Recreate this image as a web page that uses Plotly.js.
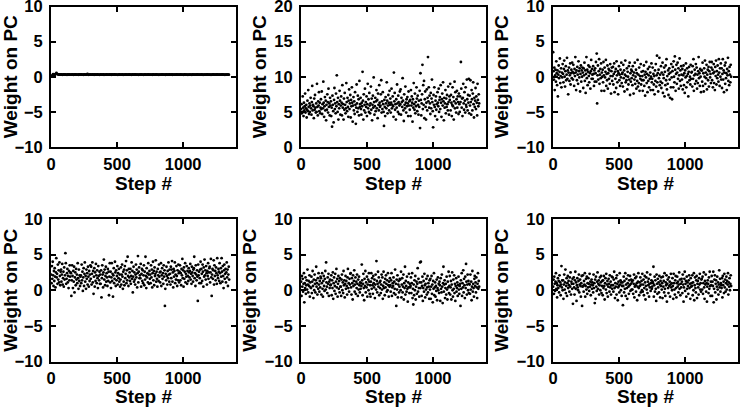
<!DOCTYPE html>
<html>
<head>
<meta charset="utf-8">
<script src="https://cdn.plot.ly/plotly-3.0.1.min.js"></script>
<style>html,body{margin:0;padding:0;background:#fff;}#chart{width:740px;height:407px;}</style>
</head>
<body>
<div id="chart"></div>
<script>
// Sampled steps: panel 1 every 5th step, other panels every 3rd step (first step # = 1)
const stepFirst = 1;
const stepEveryPc1 = 5;
const stepEvery = 3;

const xTickVals = [0, 500, 1000];
const xTickText = ['0', '500', '1000'];
const yTicksA = [-10, -5, 0, 5, 10];
const yTicksB = [0, 5, 10, 15, 20];
const xTitle = 'Step #';
const yTitle = 'Weight on PC';

const pc1 = [
0.02,0.12,0.22,0.38,0.30,0.34,0.28,0.42,0.55,0.40,0.34,0.31,0.33,0.29,0.32,
0.30,0.33,0.28,0.31,0.32,0.29,0.34,0.30,0.31,0.28,0.33,0.30,0.32,0.29,0.31,
0.31,0.29,0.33,0.30,0.28,0.32,0.30,0.34,0.29,0.31,0.30,0.27,0.33,0.30,0.32,
0.29,0.32,0.30,0.31,0.28,0.33,0.31,0.29,0.30,0.32,0.40,0.30,0.28,0.31,0.33,
0.30,0.31,0.29,0.32,0.30,0.28,0.33,0.31,0.30,0.29,0.32,0.30,0.31,0.28,0.30,
0.32,0.29,0.31,0.30,0.33,0.28,0.30,0.31,0.29,0.32,0.30,0.31,0.29,0.30,0.32,
0.30,0.28,0.32,0.31,0.29,0.30,0.33,0.30,0.29,0.31,0.30,0.28,0.31,0.32,0.30,
0.29,0.31,0.30,0.32,0.28,0.31,0.30,0.29,0.33,0.30,0.31,0.29,0.30,0.32,0.29,
0.31,0.30,0.28,0.32,0.30,0.29,0.31,0.33,0.30,0.29,0.31,0.30,0.28,0.31,0.30,
0.30,0.32,0.29,0.31,0.30,0.28,0.30,0.32,0.29,0.31,0.30,0.29,0.32,0.30,0.31,
0.29,0.30,0.31,0.28,0.32,0.30,0.31,0.29,0.30,0.33,0.29,0.31,0.30,0.28,0.31,
0.30,0.31,0.29,0.32,0.30,0.29,0.31,0.30,0.28,0.32,0.30,0.29,0.31,0.30,0.32,
0.31,0.29,0.30,0.32,0.28,0.31,0.30,0.29,0.31,0.30,0.33,0.29,0.30,0.31,0.29,
0.30,0.32,0.29,0.30,0.31,0.28,0.30,0.32,0.30,0.29,0.31,0.30,0.28,0.31,0.30,
0.29,0.31,0.30,0.28,0.32,0.30,0.31,0.29,0.30,0.31,0.29,0.32,0.30,0.29,0.31,
0.30,0.29,0.31,0.32,0.30,0.28,0.31,0.30,0.29,0.31,0.30,0.32,0.29,0.30,0.31,
0.31,0.30,0.28,0.31,0.30,0.32,0.29,0.30,0.31,0.29,0.30,0.32,0.30,0.29,0.31,
0.30,0.31,0.29,0.30,0.32,0.29,0.31,0.30,0.28,0.31,0.30,0.29,0.31,0.30,0.30
];

const pc2 = [
5.4,6.1,4.8,5.0,7.2,5.6,4.4,6.3,5.2,5.8,7.6,4.9,5.5,6.0,4.2,5.3,6.6,5.1,8.1,5.7,4.7,6.2,5.0,5.9,7.0,
5.5,4.6,6.4,8.7,5.2,6.0,5.8,4.1,6.9,5.3,7.4,5.6,4.9,6.2,5.0,9.0,5.7,4.5,6.5,5.9,7.8,5.1,6.3,4.8,5.6,
6.8,5.4,7.9,4.7,6.1,5.5,9.3,6.3,4.3,5.8,7.1,5.2,6.6,3.8,6.0,5.3,7.5,6.4,4.9,8.3,5.7,6.2,4.5,7.0,5.9,
6.5,4.4,5.6,2.9,7.3,6.0,5.1,3.5,6.7,8.4,5.4,6.2,4.8,7.6,5.8,10.2,6.4,5.0,7.0,3.9,6.1,5.5,8.0,6.6,4.6,
5.9,7.2,6.3,4.5,8.8,5.6,6.1,3.9,6.9,5.3,7.7,6.0,4.8,5.5,9.1,6.4,5.1,7.0,5.7,4.3,6.6,8.2,5.4,6.2,7.4,
4.2,6.7,5.8,8.5,6.3,3.6,5.9,7.1,5.2,6.5,4.7,7.8,6.0,3.3,5.6,8.9,6.2,5.0,7.3,5.5,6.8,4.5,9.4,5.7,6.1,
7.0,5.4,4.6,6.3,5.8,10.7,6.6,3.9,7.5,5.2,6.0,8.3,4.9,6.4,5.7,7.2,4.4,6.1,9.0,5.5,6.8,5.0,7.7,5.9,4.8,
6.2,8.6,5.3,6.9,3.8,6.0,7.3,5.6,9.9,6.4,4.6,5.8,7.0,5.1,6.5,8.1,5.5,6.7,4.1,7.6,6.0,5.2,8.8,6.3,5.7,
5.9,7.5,9.5,4.9,6.5,5.4,7.8,6.1,5.0,3.0,6.7,5.7,4.4,7.1,6.2,5.5,9.2,6.6,4.8,5.9,7.4,6.3,5.2,8.0,6.0,
6.9,4.9,6.3,8.3,5.5,6.0,7.2,5.8,4.3,10.6,6.5,7.7,5.3,6.1,3.9,6.8,5.6,8.9,6.2,5.0,7.3,6.4,4.7,5.9,7.9,
6.1,8.2,4.6,7.0,6.4,5.7,9.8,6.6,5.2,3.7,7.5,6.0,5.5,8.6,6.3,4.9,6.8,5.8,7.1,6.2,4.4,7.9,5.9,6.5,5.3,
6.7,4.4,8.1,5.9,7.2,6.3,3.6,6.8,5.6,9.1,6.1,5.3,7.6,4.8,6.4,5.8,8.5,6.9,5.1,7.3,6.0,4.6,6.6,5.7,8.0,
2.7,10.5,6.7,4.5,6.2,7.5,11.7,5.4,8.8,6.0,9.4,4.1,6.8,7.9,5.7,3.9,6.3,8.2,5.2,7.0,12.8,6.5,8.5,5.6,7.3,
6.2,4.7,7.7,5.5,6.9,9.6,6.4,5.1,2.8,7.4,6.0,8.5,5.7,4.4,6.6,7.2,5.3,6.1,3.9,7.8,6.3,5.8,8.3,5.0,6.7,
7.1,5.4,8.8,6.3,4.3,6.8,7.6,5.9,9.2,6.5,3.8,7.0,5.6,6.2,8.1,4.8,6.9,5.7,7.4,6.1,5.2,8.6,6.4,4.6,7.2,
6.7,9.0,5.2,7.4,6.3,4.4,6.0,8.5,5.8,7.1,3.9,6.5,9.3,5.5,7.8,6.2,4.9,6.8,8.0,5.6,7.2,6.4,4.7,7.6,6.1,
5.0,7.2,6.4,12.1,8.3,5.6,6.9,4.4,7.0,9.0,6.2,5.3,7.8,6.6,4.9,8.5,6.0,5.7,9.6,6.8,5.2,7.4,6.3,9.7,4.8,
7.3,5.9,9.5,6.4,4.6,8.1,6.8,5.2,7.6,9.2,6.1,4.2,7.0,5.7,6.6,8.4,5.4,7.2,6.3,4.5,9.0,6.7,5.8,7.5,6.2
];

const pc3 = [
3.5,0.8,-0.4,1.3,-1.9,0.2,1.0,-0.7,2.2,0.5,-1.2,0.9,-2.8,0.3,1.6,-0.2,0.7,2.6,-0.9,0.1,1.2,-1.5,0.6,-0.1,1.8,
0.4,-0.8,1.1,2.3,0.0,-1.4,0.8,1.5,-0.5,0.3,2.7,-0.3,0.9,-2.5,0.6,1.3,-0.6,0.2,1.9,-1.1,0.5,1.0,-0.2,2.0,0.7,
-0.4,1.7,0.5,-1.3,1.1,0.1,2.8,0.6,-1.9,0.9,-0.5,1.4,0.3,-1.0,2.2,0.8,-0.1,1.2,-2.1,0.4,1.6,-0.7,0.9,0.0,1.3,
0.6,-1.6,1.2,0.2,2.0,-0.6,0.9,-2.3,0.4,2.8,-0.2,1.0,-1.2,0.7,1.6,0.1,-0.8,1.4,0.5,-1.7,0.8,2.4,-0.3,1.1,0.3,
-0.3,1.5,0.4,-1.3,0.9,-0.7,1.2,0.5,2.1,-0.7,3.3,-3.8,0.2,1.6,-0.4,0.8,2.5,-1.0,0.3,1.1,-0.2,1.9,-2.0,0.6,0.0,
1.0,-0.8,2.1,0.2,-2.0,1.3,-0.1,0.7,2.4,-1.3,0.4,-0.5,1.6,-1.7,0.5,1.1,-0.3,0.9,-1.0,1.8,0.1,-2.4,0.8,1.3,-0.6,
0.1,1.4,-1.1,0.4,1.9,-2.2,0.7,-0.3,1.1,-1.6,2.2,0.2,-0.8,0.8,-2.5,0.5,1.5,-0.5,0.3,-1.3,1.0,-0.1,2.0,-0.9,0.4,
0.6,-1.4,1.7,-0.2,0.9,-2.1,0.3,2.3,-0.8,0.1,-0.5,1.2,-1.8,0.7,0.0,-1.1,1.5,-0.4,2.0,-2.6,0.5,-0.7,1.0,-0.2,0.8,
-1.2,1.5,0.2,-2.4,0.6,-0.4,2.0,-1.0,0.0,1.0,-1.7,0.5,-0.6,2.4,-1.4,0.3,-0.9,1.3,-2.0,0.1,-0.3,1.8,-1.1,0.7,-0.5,
0.1,-2.0,0.8,-0.5,1.6,-1.3,0.3,-2.7,0.7,-0.1,2.1,-0.9,0.4,-2.2,1.1,-0.6,0.2,-1.5,1.4,-0.3,0.6,-1.9,0.0,1.9,-0.8,
-0.3,1.3,-1.9,0.4,-1.1,0.1,-2.5,0.9,-0.6,1.8,-1.4,0.2,3.0,-0.8,0.5,-2.1,1.0,-0.2,2.7,-1.2,0.3,-0.7,1.5,-1.6,0.6,
-0.9,2.0,-2.3,0.3,-0.2,1.3,-2.8,0.7,-1.2,1.6,-0.5,2.5,-1.8,0.1,-1.0,0.9,-2.6,0.4,1.2,-0.4,-3.0,0.6,-1.5,1.8,-0.1,
-3.2,0.8,1.4,-1.5,2.2,0.0,-0.8,2.9,1.0,-2.0,0.4,1.7,-1.0,0.6,2.0,-0.3,1.2,-1.7,0.2,2.6,-0.6,0.9,-1.3,1.5,0.3,
-0.4,1.1,-1.8,0.2,1.6,-1.2,0.5,-2.3,0.9,-0.1,1.9,-1.5,0.1,1.2,-0.8,0.4,-2.8,0.7,1.4,-0.5,0.0,-1.1,1.7,-0.3,0.6,
0.7,-1.4,1.5,-0.3,2.5,-2.0,0.2,1.0,-1.0,0.4,1.8,-0.6,1.3,-1.7,0.3,-0.9,0.8,2.8,-0.2,0.5,-1.3,1.1,0.0,-2.2,0.9,
0.9,-0.7,2.0,-1.3,0.5,-2.1,1.2,0.0,2.3,-1.0,0.6,-0.2,1.7,-1.8,0.3,1.0,-0.5,1.4,-1.4,0.8,2.1,-0.1,0.4,-0.9,1.3,
2.1,-0.5,1.0,-1.5,0.5,1.8,-0.9,0.7,-1.9,1.4,0.1,2.3,-1.1,0.8,-0.2,1.6,0.3,-0.7,2.5,0.6,-1.3,1.2,0.0,1.9,-0.4,
1.2,-1.6,0.4,2.5,-0.4,0.9,-2.2,0.6,1.6,-1.0,2.0,-0.2,0.5,-1.9,1.1,0.2,2.7,-0.6,0.8,-1.2,1.4,0.3,-0.8,1.7,0.0
];

const pc4 = [
2.2,1.0,3.4,1.6,4.0,2.1,0.6,2.7,1.3,3.1,1.9,0.4,2.5,4.5,1.8,2.3,0.9,3.6,1.5,2.8,1.1,3.9,2.0,0.7,2.6,
2.9,1.2,2.2,3.7,0.8,1.7,2.6,0.5,3.2,1.5,2.1,5.2,3.8,0.9,1.6,2.4,3.0,1.1,2.0,0.3,2.7,1.4,3.5,1.9,2.5,
2.4,-0.8,1.4,3.5,2.0,0.3,2.7,1.2,3.3,-0.3,1.8,2.5,0.7,3.0,1.5,2.2,1.0,3.8,1.7,0.2,2.9,1.3,2.1,0.6,1.9,
2.1,1.0,3.6,1.4,2.6,-0.1,1.8,3.1,0.6,2.3,3.9,1.2,2.0,0.2,2.9,1.6,2.4,0.8,3.3,1.9,0.5,2.7,1.3,2.2,3.5,
1.6,3.3,0.8,2.3,3.9,1.1,2.7,-0.5,1.9,3.1,0.5,2.5,1.3,3.7,2.1,1.0,2.8,1.7,0.3,3.4,2.0,1.4,2.6,0.9,2.2,
0.9,2.8,-1.0,1.7,3.5,2.2,0.4,2.5,4.3,1.5,2.9,0.7,2.0,3.3,1.2,2.4,1.8,0.6,3.0,1.3,2.6,-0.7,1.9,3.8,1.1,
2.6,0.3,1.8,3.8,1.3,2.3,-0.9,2.1,3.1,1.0,1.6,4.0,2.5,0.6,2.8,1.4,2.0,3.4,0.8,2.4,1.7,3.0,1.2,2.2,0.5,
1.5,3.2,0.8,2.2,3.6,1.9,0.2,2.6,1.2,2.9,0.7,3.4,1.7,2.3,4.1,1.0,2.8,1.4,4.7,2.0,0.6,3.0,1.8,2.5,1.3,
3.0,0.9,2.0,3.9,1.6,2.7,-0.3,1.9,3.3,1.2,2.5,1.5,0.8,2.2,3.6,1.8,2.9,0.4,2.4,4.8,1.1,2.6,3.2,1.7,2.1,
1.7,3.7,0.5,2.3,3.0,1.3,2.8,1.0,2.1,3.5,0.7,2.6,1.5,4.7,2.0,0.3,3.1,1.8,2.4,1.1,3.8,2.2,0.9,2.7,1.6,
2.2,1.0,3.5,1.8,2.9,0.4,2.4,4.0,1.4,2.7,0.7,3.2,2.0,2.3,4.2,1.2,2.6,1.6,0.5,3.0,2.1,1.3,3.6,1.9,2.5,
1.1,2.6,3.8,0.6,2.1,3.1,1.6,2.4,0.9,3.5,1.9,2.8,-2.2,0.2,2.3,1.4,3.3,2.0,0.8,2.7,1.7,3.9,2.2,1.2,2.9,
2.3,0.8,3.3,1.7,2.9,4.1,1.2,2.5,0.4,3.0,1.9,2.7,3.9,1.0,2.2,1.5,3.4,2.0,0.6,2.8,1.4,3.6,2.4,1.1,2.6,
3.5,1.4,2.4,0.7,3.0,2.1,4.4,1.7,2.8,0.5,3.2,1.6,2.6,3.8,1.1,2.3,1.9,3.4,0.9,2.7,2.0,1.3,3.1,2.5,1.8,
2.7,3.7,1.5,2.3,0.9,3.3,2.5,2.0,1.2,2.9,3.1,4.7,1.7,2.4,0.6,3.5,2.2,1.4,2.8,1.9,-1.5,3.6,2.1,2.6,1.0,
1.7,2.9,4.0,1.0,3.0,2.3,1.3,3.6,2.6,0.5,3.2,1.9,4.3,2.1,2.8,1.5,3.4,2.4,0.8,2.7,2.0,3.8,1.6,2.5,3.1,
3.3,1.1,2.5,4.4,1.8,-0.8,2.2,3.0,1.6,2.8,4.2,0.8,3.5,2.0,2.7,1.4,3.2,2.4,0.9,4.5,2.1,1.7,3.0,2.6,1.3,
3.8,2.4,1.0,3.1,1.9,4.5,2.6,1.2,3.4,2.0,0.3,2.8,3.6,1.6,2.3,3.0,1.1,2.5,3.9,1.8,2.9,0.6,2.2,3.3,1.5
];

const pc5 = [
1.2,-0.8,2.0,0.5,1.6,-0.2,0.9,2.4,-1.7,1.0,0.3,1.8,-0.5,0.7,1.4,0.1,2.9,0.8,-0.3,1.3,0.6,2.1,-0.9,1.1,0.4,
0.3,1.9,-0.4,1.2,2.7,0.6,-1.1,1.5,0.0,2.2,0.9,-0.3,1.4,3.3,0.5,1.0,-0.6,1.7,0.2,2.4,0.8,-0.2,1.3,0.4,1.9,
1.7,-0.6,1.0,2.4,0.2,-0.9,1.3,2.0,0.6,-0.1,1.6,2.7,0.1,3.9,1.1,0.5,-0.4,1.8,0.9,2.3,-0.8,1.2,0.3,1.5,0.7,
0.8,2.1,-0.7,1.4,0.3,2.5,-1.2,1.0,1.8,-0.1,0.6,2.3,-0.5,1.2,3.0,0.4,1.6,-0.9,0.9,2.0,0.2,1.3,-0.3,1.7,0.5,
0.5,-0.8,1.5,2.2,0.0,1.1,-0.4,2.7,0.7,1.4,-1.0,0.9,2.0,0.2,1.3,0.6,-0.6,1.8,3.0,0.3,1.0,-0.2,1.6,0.8,2.3,
2.4,0.4,-0.6,1.7,1.0,-1.3,2.1,0.6,1.3,2.8,-0.2,0.8,1.8,-0.5,1.2,0.3,2.2,0.9,-0.8,1.5,0.1,1.9,0.7,-0.3,1.1,
0.2,1.0,0.6,3.6,1.4,-0.7,0.9,2.3,0.3,-1.4,1.6,0.6,2.7,-0.3,1.1,0.4,1.9,-0.9,0.8,1.5,0.0,2.4,1.2,-0.5,0.7,
-0.9,1.2,2.4,0.2,1.7,0.7,-0.5,2.0,1.0,0.4,1.5,-1.1,0.8,2.2,0.1,4.1,1.3,-0.3,0.9,2.6,0.5,1.8,-0.7,1.1,0.3,
1.3,-0.4,0.8,2.2,0.1,1.8,-1.2,0.6,2.6,0.3,1.1,-0.7,1.6,0.4,2.1,0.9,-0.2,1.4,0.0,2.4,0.7,-0.9,1.2,0.5,1.7,
0.7,-0.2,1.4,2.4,-0.8,0.4,1.0,0.6,1.8,-0.4,1.2,0.2,2.9,-0.6,0.9,-2.2,1.5,0.1,2.1,-1.0,0.8,1.3,-0.3,0.5,1.6,
1.5,0.0,2.6,-1.0,0.8,1.7,-0.3,0.5,2.2,-1.3,1.0,0.3,3.3,-0.6,1.3,0.6,-0.2,1.9,0.2,-1.6,1.1,0.4,2.3,-0.4,0.9,
0.4,0.6,1.8,-0.4,1.0,2.4,-1.1,0.2,-2.0,0.8,-0.7,1.4,0.0,2.0,-1.3,0.5,1.2,-0.5,0.9,3.1,-0.2,1.6,0.3,-0.9,1.1,
3.9,0.3,4.0,1.1,-0.8,0.6,1.9,-1.5,0.3,1.3,-0.2,2.3,0.7,-1.0,0.9,0.1,1.6,-0.6,0.4,2.0,-0.3,1.0,0.5,-1.2,1.4,
0.1,1.6,-1.2,0.5,2.0,-0.5,0.8,-1.7,1.3,0.2,2.4,-0.7,0.4,1.1,-0.9,0.6,-0.1,1.5,-1.4,0.3,1.8,0.0,0.9,-0.4,1.2,
0.7,-1.5,1.7,0.2,-0.3,2.2,0.5,-1.8,1.0,3.3,-0.2,0.8,1.4,-1.1,0.3,0.9,-0.6,1.9,0.1,-1.3,1.2,0.4,2.6,-0.4,0.6,
2.0,-0.6,0.4,1.3,-1.3,0.8,2.5,0.0,-0.9,1.5,0.2,2.1,-0.4,0.9,-1.5,0.6,1.7,-0.2,0.3,1.1,-0.8,0.7,1.9,0.1,-0.5,
0.6,0.9,-2.2,1.4,0.2,2.4,-0.8,1.0,0.4,2.8,-0.3,1.6,0.7,-1.1,1.9,0.3,3.7,1.2,-0.6,0.8,2.2,0.0,1.3,-0.4,0.9,
0.8,-0.5,2.2,0.1,1.2,-1.4,0.5,2.7,-0.2,0.9,0.3,-0.9,1.6,2.0,0.6,1.1,-0.3,1.8,0.4,-1.1,0.9,2.4,0.2,1.3,0.5
];

const pc6 = [
0.5,1.5,-0.5,1.9,0.9,-0.1,1.2,2.4,0.2,1.0,-1.0,0.7,1.7,0.3,1.3,-0.3,2.1,0.6,1.1,-0.7,0.8,3.4,0.4,1.4,0.0,
1.4,-1.2,0.8,2.2,0.1,1.1,2.9,-0.4,0.6,1.7,-0.8,1.0,2.0,0.3,1.3,0.7,-0.2,1.8,0.5,2.5,-0.6,1.2,0.9,0.2,1.6,
-1.9,0.9,1.8,0.4,-0.6,1.4,2.6,0.2,1.1,-1.5,0.7,1.7,0.4,0.0,1.3,2.2,-0.3,0.8,1.5,0.6,-0.9,1.0,2.0,-2.2,0.5,
2.1,0.6,-0.2,1.3,0.8,2.4,-0.9,0.6,1.6,0.1,1.9,-0.5,1.0,0.4,1.7,0.9,-0.1,2.3,0.5,1.2,-0.7,0.8,1.5,0.2,1.1,
0.7,-0.3,2.2,0.3,1.0,-1.8,1.5,-1.2,1.9,0.5,-0.1,1.2,2.5,0.2,0.9,1.4,-0.6,0.7,1.8,0.0,1.1,2.0,-0.4,0.6,1.3,
-0.7,1.4,0.3,2.0,0.6,-1.3,1.0,1.7,0.1,2.3,-0.4,0.8,1.3,-0.9,0.5,1.6,0.9,-0.2,2.1,0.4,1.2,-0.6,0.7,1.9,0.2,
1.8,0.7,-0.2,1.5,2.6,0.3,-1.1,1.0,0.5,1.7,-0.6,2.1,0.9,-1.4,0.4,1.2,0.6,-0.3,2.4,0.8,1.4,0.0,1.1,-0.8,0.6,
1.1,-2.1,0.6,1.9,-0.3,1.3,0.2,2.4,-0.8,0.8,1.6,0.3,-1.2,1.0,2.1,0.5,-0.5,1.4,0.7,2.0,-0.1,0.9,1.5,0.1,1.2,
0.1,1.4,-0.5,0.9,2.2,-1.0,0.5,1.7,0.7,-0.2,1.9,1.0,-1.4,0.5,1.2,2.4,0.3,-0.7,1.1,0.6,1.8,-0.3,0.8,1.3,0.0,
2.3,-0.2,0.8,1.5,-0.7,0.3,2.0,1.1,-1.3,0.6,1.8,0.1,2.5,-0.4,1.2,0.7,1.6,-0.9,0.9,0.4,2.2,-0.1,1.0,1.4,0.2,
0.5,1.2,1.0,3.3,-0.9,0.7,1.9,-0.2,1.4,0.2,-1.5,2.2,0.9,-0.5,1.6,0.4,1.1,-0.3,2.0,0.8,-1.0,1.3,0.6,1.8,0.1,
1.0,-1.1,1.9,0.5,1.3,-0.3,2.4,0.2,-0.8,1.1,0.7,2.1,-1.6,0.9,1.5,0.3,-0.4,1.8,0.6,1.2,-0.9,0.8,2.3,0.4,1.0,
0.0,1.7,0.6,-1.2,2.3,1.0,0.1,-0.6,1.4,2.0,0.3,-1.0,1.0,1.9,0.5,1.2,-0.3,0.8,2.5,0.2,1.5,-0.7,0.9,0.4,1.6,
1.2,-0.4,2.2,0.8,-1.6,0.4,1.6,2.6,-0.1,0.9,1.3,-0.9,1.9,0.2,1.1,0.6,-0.5,1.4,2.1,0.3,0.9,-1.2,1.7,0.5,1.0,
0.6,2.1,-0.7,1.1,0.0,2.4,-1.4,0.7,1.8,0.3,-0.3,1.4,2.0,-1.1,0.9,1.3,0.4,-0.6,1.7,0.8,2.3,0.1,1.0,-0.2,1.5,
1.6,0.1,1.9,-0.5,1.0,2.5,0.4,-1.2,1.3,0.8,2.2,-0.2,1.0,-1.6,0.5,1.4,0.9,-0.4,1.8,0.2,2.6,0.6,-0.8,1.2,0.7,
2.0,-0.8,1.2,0.6,2.6,-1.7,0.2,1.5,2.1,-0.3,0.9,1.4,-1.3,0.5,1.9,0.1,1.1,-0.6,0.8,2.8,0.4,1.6,-0.2,1.0,0.7,
0.3,1.7,-1.0,2.0,0.7,1.2,-0.4,2.3,0.4,1.5,-0.2,1.0,1.9,0.1,1.3,0.8,2.4,-0.6,1.1,0.5,1.7,0.0,0.9,2.1,0.6
];

const series = [pc1, pc2, pc3, pc4, pc5, pc6];
const stepSpacing = [stepEveryPc1, stepEvery, stepEvery, stepEvery, stepEvery, stepEvery];
const yRanges = [[-10, 10], [0, 20], [-10, 10], [-10, 10], [-10, 10], [-10, 10]];
const yTickSets = [yTicksA, yTicksB, yTicksA, yTicksA, yTicksA, yTicksA];

const W = 740, H = 407;
const colPx = [[51, 236], [301, 486], [553, 738]];
const rowPx = [[6.5, 147], [219, 361.5]];
const xTitleStandoff = [3, 0];

const tickFont = {family: 'Liberation Sans, Arial, sans-serif', size: 16.5, color: '#000', weight: 'bold'};
const titleFont = {family: 'Liberation Sans, Arial, sans-serif', size: 19, color: '#000', weight: 'bold'};

const traces = [];
const layout = {
  width: W, height: H,
  margin: {l: 0, r: 0, t: 0, b: 0},
  paper_bgcolor: '#fff', plot_bgcolor: '#fff',
  showlegend: false
};

series.forEach((vals, k) => {
  const steps = vals.map((_, i) => stepFirst + stepSpacing[k] * i);
  const n = k + 1;
  const xa = n === 1 ? 'x' : 'x' + n;
  const ya = n === 1 ? 'y' : 'y' + n;
  traces.push({
    type: 'scatter', mode: 'markers', x: steps, y: vals,
    xaxis: xa, yaxis: ya,
    marker: {size: 2.8, color: '#000', line: {width: 0}},
    hoverinfo: 'skip', cliponaxis: true
  });
  const col = k % 3, row = Math.floor(k / 3);
  const common = {
    showline: true, linecolor: '#000', linewidth: 2, mirror: 'ticks',
    ticks: 'inside', ticklen: 5, tickwidth: 2, tickcolor: '#000',
    showgrid: false, zeroline: false, tickfont: tickFont, fixedrange: true,
    ticklabeloverflow: 'allow'
  };
  layout['xaxis' + (n === 1 ? '' : n)] = Object.assign({}, common, {
    domain: [colPx[col][0] / W, colPx[col][1] / W],
    range: [0, 1400], tickmode: 'array', tickvals: xTickVals, ticktext: xTickText,
    anchor: ya, ticklabelstandoff: 1,
    title: {text: xTitle, font: titleFont, standoff: xTitleStandoff[row]}
  });
  layout['yaxis' + (n === 1 ? '' : n)] = Object.assign({}, common, {
    domain: [1 - rowPx[row][1] / H, 1 - rowPx[row][0] / H],
    range: yRanges[k], tickmode: 'array', tickvals: yTickSets[k],
    anchor: xa, ticklabelstandoff: 3,
    title: {text: yTitle, font: titleFont, standoff: 3}
  });
});

Plotly.newPlot('chart', traces, layout, {staticPlot: true, displayModeBar: false});
</script>
</body>
</html>
